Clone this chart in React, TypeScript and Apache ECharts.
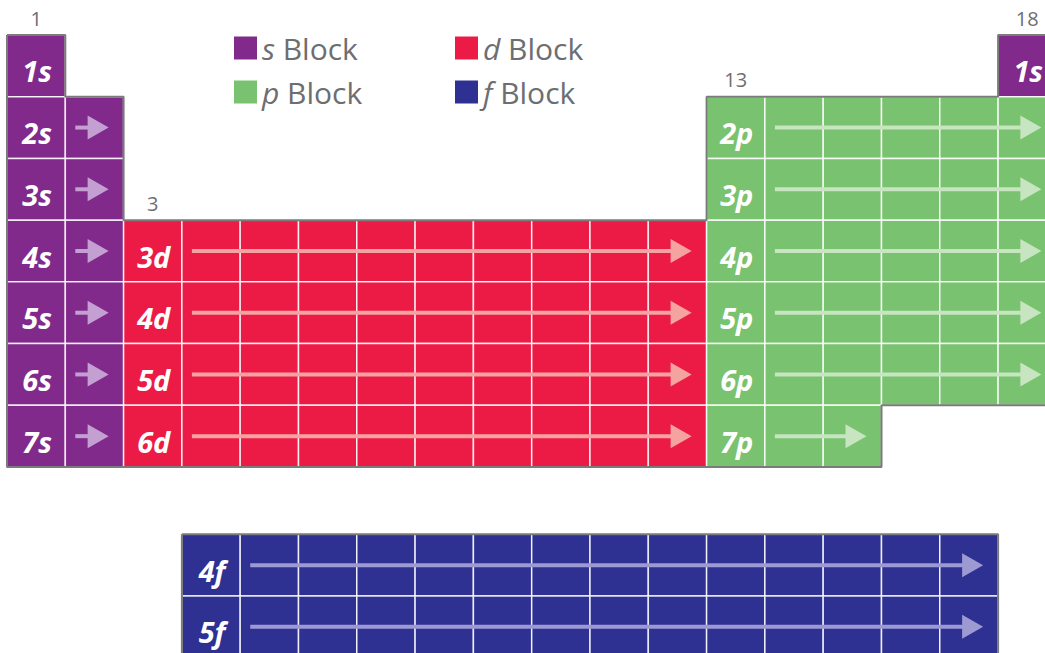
import React, { useEffect, useRef } from "react";
import * as echarts from "echarts";

// ---- data ----
const sLabels = ["1s", "2s", "3s", "4s", "5s", "6s", "7s", "1s"];
const sRowTops = [0, 1, 2, 3, 4, 5, 6, 0];
const sFirstCols = [1, 1, 1, 1, 1, 1, 1, 18];
const sLastCols = [1, 2, 2, 2, 2, 2, 2, 18];

const dLabels = ["3d", "4d", "5d", "6d"];
const dRowTops = [3, 4, 5, 6];
const dFirstCols = [3, 3, 3, 3];
const dLastCols = [12, 12, 12, 12];

const pLabels = ["2p", "3p", "4p", "5p", "6p", "7p"];
const pRowTops = [1, 2, 3, 4, 5, 6];
const pFirstCols = [13, 13, 13, 13, 13, 13];
const pLastCols = [18, 18, 18, 18, 18, 15];

const fLabels = ["4f", "5f"];
const fRowTops = [8.09, 9.09];
const fFirstCols = [4, 4];
const fLastCols = [17, 17];

const groupNumbers = [1, 3, 13, 18];
const groupTopRows = [0, 3, 1, 0];

const mainOutlineCols = [0, 1, 1, 2, 2, 12, 12, 17, 17, 18, 18, 15, 15, 0, 0];
const mainOutlineRows = [0, 0, 1, 1, 3, 3, 1, 1, 0, 0, 6, 6, 7, 7, 0];
const fOutlineCols = [3, 17, 17, 3, 3];
const fOutlineRows = [8.09, 8.09, 10.09, 10.09, 8.09];

const blockNames = ["s Block", "p Block", "d Block", "f Block"];

// ---- styles ----
const COL_S = "#812a8c";
const COL_D = "#ec1b46";
const COL_P = "#79c26f";
const COL_F = "#2e3192";
const ARR_S = "#c4a0d2";
const ARR_D = "#f4a3a0";
const ARR_P = "#c6e5c0";
const ARR_F = "#9c99d3";
const GRAY = "#6d6e71";
const FONT = '"Open Sans", "Noto Sans", sans-serif';

function blockSeries(
  name: string,
  color: string,
  arrowColor: string,
  labels: string[],
  tops: number[],
  firsts: number[],
  lasts: number[]
) {
  return {
    type: "custom",
    name,
    coordinateSystem: "cartesian2d",
    clip: false,
    silent: true,
    z: 2,
    itemStyle: { color },
    data: labels.map((_, i) => [firsts[i], tops[i], lasts[i]]),
    renderItem: (params: any, api: any) => {
      const first = api.value(0) as number;
      const top = api.value(1) as number;
      const last = api.value(2) as number;
      const children: any[] = [];
      for (let c = first; c <= last; c++) {
        const p0 = api.coord([c - 1, top]);
        const p1 = api.coord([c, top + 1]);
        children.push({
          type: "rect",
          shape: { x: p0[0], y: p0[1], width: p1[0] - p0[0], height: p1[1] - p0[1] },
          style: { fill: color, stroke: "rgba(255,255,255,0.85)", lineWidth: 1.5 },
        });
      }
      if (last > first) {
        const a = api.coord([first, top + 0.5]);
        const b = api.coord([last, top + 0.5]);
        const y = a[1];
        const x1 = a[0] + 10;
        const tip = b[0] - 15;
        const base = tip - 21;
        children.push({
          type: "line",
          shape: { x1, y1: y, x2: base + 2, y2: y },
          style: { stroke: arrowColor, lineWidth: 4 },
        });
        children.push({
          type: "polygon",
          shape: { points: [[base, y - 12], [tip, y], [base, y + 12]] },
          style: { fill: arrowColor },
        });
      }
      const c = api.coord([first - 0.5, top + 0.5]);
      children.push({
        type: "text",
        style: {
          text: labels[params.dataIndex],
          x: c[0] + 1,
          y: c[1] + 5,
          fill: "#ffffff",
          fontSize: 29,
          fontWeight: "bold",
          fontStyle: "italic",
          fontFamily: FONT,
          align: "center",
          verticalAlign: "middle",
        },
      });
      return { type: "group", children };
    },
  };
}

function outlineSeries(cols: number[], rows: number[]) {
  return {
    type: "line",
    data: cols.map((c, i) => [c, rows[i]]),
    symbol: "none",
    clip: false,
    silent: true,
    z: 5,
    lineStyle: { color: "#7b7b7b", width: 2 },
  };
}

const legendFormatter = (name: string) => {
  const parts = name.split(" ");
  return `{it|${parts[0]}}{rg| ${parts[1]}}`;
};

const legendText = {
  rich: {
    it: { fontFamily: FONT, fontSize: 30, fontStyle: "italic", color: GRAY, lineHeight: 30 },
    rg: { fontFamily: FONT, fontSize: 30, color: GRAY, lineHeight: 30 },
  },
};

export default function App() {
  const ref = useRef<HTMLDivElement>(null);
  useEffect(() => {
    if (!ref.current) return;
    const chart = echarts.init(ref.current, undefined, { renderer: "svg" });
    const rowH = 432 / 7;
    chart.setOption({
      animation: false,
      backgroundColor: "#ffffff",
      grid: {
        left: 7,
        top: 35,
        width: 58.3 * 18,
        height: rowH * 10.2,
        outerBoundsMode: "none",
        containLabel: false,
      },
      xAxis: { type: "value", min: 0, max: 18, show: false },
      yAxis: { type: "value", min: 0, max: 10.2, inverse: true, show: false },
      legend: [
        {
          left: 229,
          top: 28,
          orient: "vertical",
          itemWidth: 23,
          itemHeight: 23,
          itemGap: 14,
          selectedMode: false,
          icon: "rect",
          data: [
            { name: blockNames[0], itemStyle: { color: COL_S } },
            { name: blockNames[1], itemStyle: { color: COL_P } },
          ],
          formatter: legendFormatter,
          textStyle: legendText,
        },
        {
          left: 450,
          top: 28,
          orient: "vertical",
          itemWidth: 23,
          itemHeight: 23,
          itemGap: 14,
          selectedMode: false,
          icon: "rect",
          data: [
            { name: blockNames[2], itemStyle: { color: COL_D } },
            { name: blockNames[3], itemStyle: { color: COL_F } },
          ],
          formatter: legendFormatter,
          textStyle: legendText,
        },
      ],
      series: [
        blockSeries(blockNames[0], COL_S, ARR_S, sLabels, sRowTops, sFirstCols, sLastCols),
        blockSeries(blockNames[2], COL_D, ARR_D, dLabels, dRowTops, dFirstCols, dLastCols),
        blockSeries(blockNames[1], COL_P, ARR_P, pLabels, pRowTops, pFirstCols, pLastCols),
        blockSeries(blockNames[3], COL_F, ARR_F, fLabels, fRowTops, fFirstCols, fLastCols),
        outlineSeries(mainOutlineCols, mainOutlineRows),
        outlineSeries(fOutlineCols, fOutlineRows),
        {
          type: "custom",
          coordinateSystem: "cartesian2d",
          clip: false,
          silent: true,
          z: 6,
          data: groupNumbers.map((g, i) => [g, groupTopRows[i]]),
          renderItem: (params: any, api: any) => {
            const g = api.value(0) as number;
            const p = api.coord([g - 0.5, api.value(1)]);
            return {
              type: "text",
              style: {
                text: String(g),
                x: p[0],
                y: p[1] - 17,
                fill: GRAY,
                fontSize: 20,
                fontFamily: FONT,
                align: "center",
                verticalAlign: "middle",
              },
            };
          },
        },
      ],
    });
    return () => chart.dispose();
  }, []);
  return (
    <div
      ref={ref}
      style={{ position: "fixed", left: 0, top: 0, width: 1045, height: 653, background: "#fff" }}
    />
  );
}
